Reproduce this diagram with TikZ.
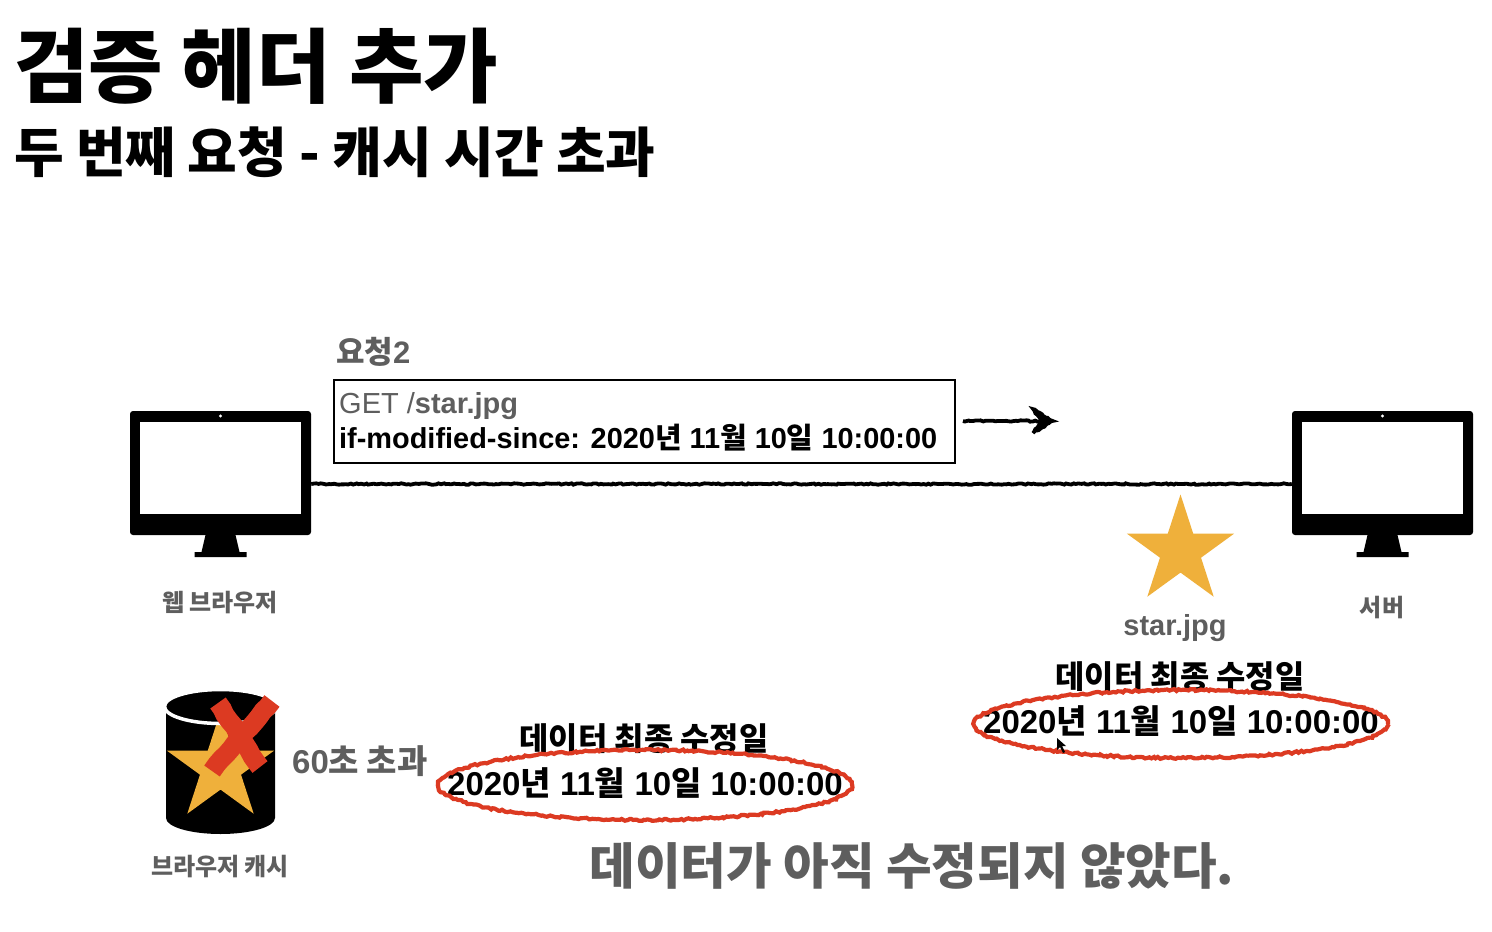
\documentclass[tikz,border=0pt]{standalone}
\usepackage{fontspec}
\usetikzlibrary{shapes.geometric,decorations.pathmorphing}
\setmainfont{Liberation Sans}
\newfontfamily\krfont{Noto Sans CJK KR}
\newcommand{\KR}[1]{{\krfont #1}}
\newcommand{\fs}[1]{\fontsize{#1}{#1}\selectfont}
\definecolor{txtgrey}{HTML}{5E5E5E}
\definecolor{stargold}{HTML}{EFB03B}
\definecolor{markred}{HTML}{DC3A22}
\tikzset{
  lbl/.style={inner sep=0pt,font=\bfseries},
  monbody/.style={fill=black,rounded corners=3pt,minimum width=181pt,minimum height=124pt,inner sep=0pt},
  monscreen/.style={fill=white,minimum width=161pt,minimum height=92pt,inner sep=0pt},
  goldstar/.style={star,star points=5,star point ratio=2.618,fill=stargold,minimum size=113pt,inner sep=0pt},
  rough/.style={decorate,decoration={random steps,segment length=2.5pt,amplitude=0.7pt}},
  redring/.style={ellipse,draw=markred,line width=4.2pt,decorate,decoration={random steps,segment length=2.4pt,amplitude=1pt},inner sep=0pt},
  redstroke/.style={draw=markred,line width=19pt,decorate,decoration={random steps,segment length=7pt,amplitude=0.8pt}}
}
\newcommand{\monitorat}[2]{% name, cx
  \node[monbody] (#1) at (#2,473) {};
  \node[monscreen] (#1s) at (#2,468) {};
  \fill[white] (#2,416) circle (1.7);
  \fill[black] (#2-15,535) -- (#2+15,535) -- (#2+19,552) -- (#2+26,552) -- (#2+26,557) -- (#2-26,557) -- (#2-26,552) -- (#2-19,552) -- cycle;
}
\begin{document}
\begin{tikzpicture}[x=1pt,y=-1pt]
\useasboundingbox (0,0) rectangle (1492,932);
\fill[white] (0,0) rectangle (1492,932);

\node[lbl,anchor=west,font=\bfseries\fs{81}] (title) at (14,66) {\KR{검증 헤더 추가}};
\node[lbl,anchor=west,font=\bfseries\fs{54}] (subtitle) at (14,152) {\KR{두 번째 요청 - 캐시 시간 초과}};

\monitorat{browser}{220.5}
\monitorat{server}{1382.5}
\node[lbl,text=txtgrey,font=\bfseries\fs{24}] (browserlabel) at (220,603) {\KR{웹 브라우저}};
\node[lbl,text=txtgrey,font=\bfseries\fs{24}] (serverlabel) at (1382,608) {\KR{서버}};

\node[lbl,text=txtgrey,anchor=west,font=\bfseries\fs{31}] (reqlabel) at (336,352) {\KR{요청}2};
\node[draw=black,line width=1.8pt,minimum width=621pt,minimum height=83pt,inner sep=0pt] (reqbox) at (644.5,421.5) {};
\node[lbl,anchor=west,text=txtgrey,font=\fs{29}] (reqline1) at (339,406) {GET /\textbf{star.jpg}};
\node[lbl,anchor=west,font=\bfseries\fs{28.9}] (reqline2) at (339,438) {if-modified-since: 2020\KR{년} 11\KR{월} 10\KR{일} 10:00:00};

\draw[black,line width=3.8pt,rough] ([yshift=-11pt]browser.east) -- ([yshift=-11pt]server.west);

\coordinate (arrowstart) at (963,421);
\coordinate (arrowend) at (1048,421);
\coordinate (headtop) at (1033,409);
\coordinate (headtip) at (1053,421);
\coordinate (headbottom) at (1033,433);
\coordinate (headnotch) at (1041,421);
\draw[black,line width=3.8pt,rough] (arrowstart) -- (arrowend);
\draw[black,fill=black,line width=3.5pt,line join=miter,rough] (headtop) -- (headtip) -- (headbottom) -- (headnotch) -- cycle;

\node[goldstar] (serverstar) at (1180.5,551) {};
\node[lbl,text=txtgrey,font=\bfseries\fs{29}] (starname) at (1175,628) {star.jpg};

\node[lbl,font=\bfseries\fs{31.8}] (rightcap) at (1180,677) {\KR{데이터 최종 수정일}};
\node[lbl,font=\bfseries\fs{33}] (rightdate) at (1181,721) {2020\KR{년} 11\KR{월} 10\KR{일} 10:00:00};
\node[redring,minimum width=414pt,minimum height=68pt] (rightring) at (1181,724) {};

% browser cache cylinder
\fill[black] (166,706) -- (166,818) arc[start angle=180,end angle=0,x radius=54.5,y radius=16] -- (275,706) -- cycle;
\node[goldstar] (cachestar) at (220.5,768) {};
\fill[black,draw=white,line width=3.5pt] (220.5,706.5) ellipse[x radius=56,y radius=17];
\draw[redstroke] (218,703) -- (260,767);
\draw[redstroke] (272,701) -- (212,771);
\node[lbl,text=txtgrey,font=\bfseries\fs{24}] (cachelabel) at (220,867) {\KR{브라우저 캐시}};
\node[lbl,text=txtgrey,anchor=west,font=\bfseries\fs{33}] (expired) at (292,761) {60\KR{초 초과}};

\node[lbl,font=\bfseries\fs{31.8}] (leftcap) at (644,739) {\KR{데이터 최종 수정일}};
\node[lbl,font=\bfseries\fs{33}] (leftdate) at (645,783) {2020\KR{년} 11\KR{월} 10\KR{일} 10:00:00};
\node[redring,minimum width=414pt,minimum height=70pt] (leftring) at (645,785) {};

\node[lbl,text=txtgrey,font=\bfseries\fs{49.6}] (conclusion) at (912,866) {\KR{데이터가 아직 수정되지 않았다.}};

% mouse cursor
\fill[black] (1057,738) -- (1057,750) -- (1060,747) -- (1063,753) -- (1065,752) -- (1062,746) -- (1066,746) -- cycle;
\end{tikzpicture}
\end{document}
